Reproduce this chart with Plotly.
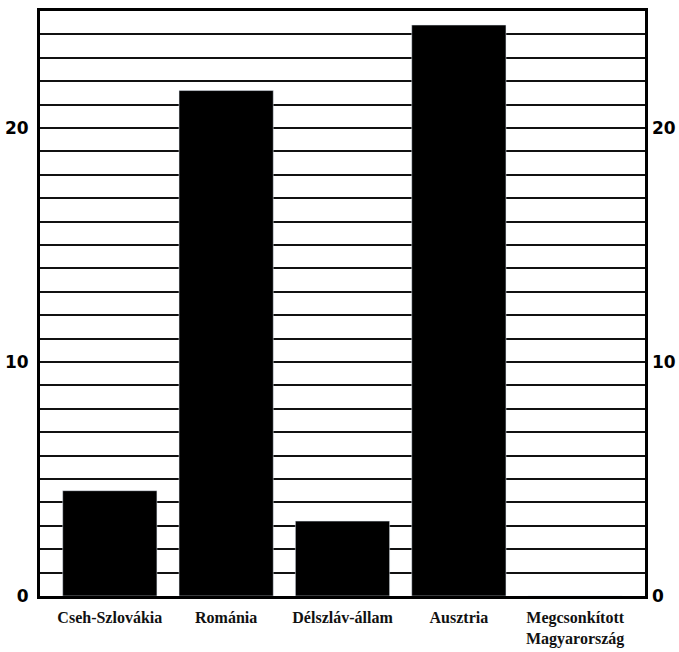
import plotly.graph_objects as go

categories = ["Cseh-Szlovákia", "Románia", "Délszláv-állam", "Ausztria", "Megcsonkított<br>Magyarország"]
values = [4.5, 21.6, 3.2, 24.4, 0.0]
tick_values = list(range(0, 26))
tick_labels = ["0" if v == 0 else ("10" if v == 10 else ("20" if v == 20 else "")) for v in tick_values]

fig = go.Figure()
fig.add_trace(go.Bar(x=categories, y=values, marker=dict(color="black", line=dict(width=0)),
                     width=0.81, hoverinfo="skip", showlegend=False))
fig.add_trace(go.Bar(x=categories, y=values, yaxis="y2", marker=dict(color="rgba(0,0,0,0)"),
                     width=0.81, hoverinfo="skip", showlegend=False))

tickfont = dict(family="DejaVu Sans", size=17, color="black", weight="bold")
fig.update_layout(
    width=679, height=652,
    margin=dict(l=40, r=34, t=11, b=56),
    paper_bgcolor="white", plot_bgcolor="white",
    bargap=0.19,
    xaxis=dict(
        range=[-0.6, 4.6], automargin=False,
        showline=True, linecolor="black", linewidth=3, mirror=True,
        showgrid=False, ticks="",
        tickfont=dict(family="Liberation Serif", size=16, color="#111", weight="bold"),
        ticklabelstandoff=5,
    ),
    yaxis=dict(
        range=[0, 25], tickvals=tick_values, ticktext=tick_labels, automargin=False,
        showgrid=True, gridcolor="#111", gridwidth=1.6,
        showline=True, linecolor="black", linewidth=3, mirror=True,
        ticks="", tickfont=tickfont, zeroline=False, ticklabelstandoff=5,
    ),
    yaxis2=dict(
        range=[0, 25], overlaying="y", side="right", automargin=False,
        tickvals=[0, 10, 20], ticktext=["0", "10", "20"],
        showgrid=False, zeroline=False, ticks="", tickfont=tickfont,
        ticklabelstandoff=6,
    ),
    barmode="overlay",
)

fig.write_html("out.html", config={"displayModeBar": False},
               post_script="document.body.style.margin='0';")
